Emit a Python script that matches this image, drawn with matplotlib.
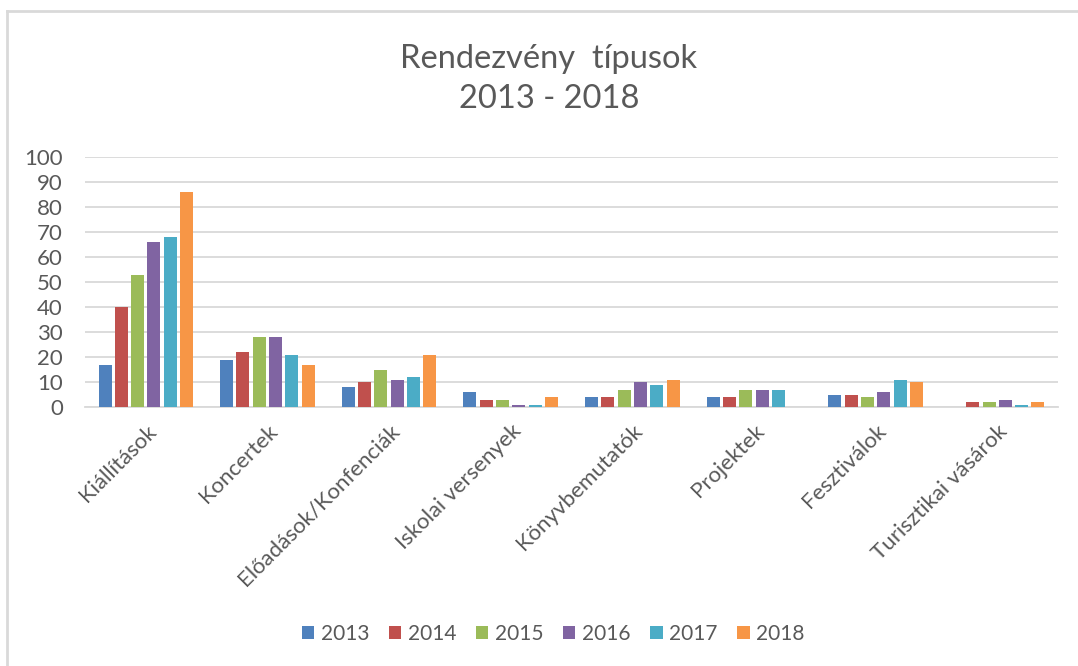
import matplotlib.pyplot as plt
import numpy as np

plt.rcParams['font.family'] = ['Lato', 'DejaVu Sans']

categories = ['Kiállítások', 'Koncertek', 'Előadások/Konfenciák', 'Iskolai versenyek',
              'Könyvbemutatók', 'Projektek', 'Fesztiválok', 'Turisztikai vásárok']
years = ['2013', '2014', '2015', '2016', '2017', '2018']
values = {
    '2013': [17, 19, 8, 6, 4, 4, 5, 0],
    '2014': [40, 22, 10, 3, 4, 4, 5, 2],
    '2015': [53, 28, 15, 3, 7, 7, 4, 2],
    '2016': [66, 28, 11, 1, 10, 7, 6, 3],
    '2017': [68, 21, 12, 1, 9, 7, 11, 1],
    '2018': [86, 17, 21, 4, 11, 0, 10, 2],
}
colors = ['#4F81BD', '#C0504D', '#9BBB59', '#8064A2', '#4BACC6', '#F79646']

text_color = '#595959'
grid_color = '#d9d9d9'

fig = plt.figure(figsize=(10.78, 6.66), dpi=100)
ax = fig.add_axes([85 / 1078, 1 - 407 / 666, (1058 - 85) / 1078, 250 / 666])

x = np.arange(len(categories))
step = 0.134
width = 0.107
for i, year in enumerate(years):
    offs = (i - 2.5) * step
    ax.bar(x + offs, values[year], width, color=colors[i], label=year, zorder=3)

ax.set_xlim(-0.5, len(categories) - 0.5)
ax.set_ylim(0, 100)
ax.set_yticks(range(0, 101, 10))
ax.yaxis.grid(True, color=grid_color, linewidth=1.3, zorder=0)
ax.set_xticks(x)
ax.set_xticklabels(categories, rotation=45, ha='right', rotation_mode='anchor')
ax.tick_params(axis='both', length=0, colors=text_color, labelsize=16)
ax.tick_params(axis='y', pad=16)
ax.tick_params(axis='x', pad=10)
for s in ['top', 'right', 'left']:
    ax.spines[s].set_visible(False)
ax.spines['bottom'].set_color(grid_color)
ax.spines['bottom'].set_linewidth(1.3)

fig.text(549 / 1078, 1 - 79 / 666, 'Rendezvény  típusok\n2013 - 2018', ha='center', va='center',
         fontsize=23.5, color=text_color, linespacing=1.45)

leg = fig.legend(loc='center', bbox_to_anchor=(553 / 1078, 1 - 634 / 666), ncol=6, frameon=False,
                 fontsize=15, handlelength=0.6, handleheight=0.6, handletextpad=0.3, columnspacing=0.95)
for t in leg.get_texts():
    t.set_color(text_color)

# chart border (top and left only visible)
fig.add_artist(plt.Line2D([7 / 1078, 7 / 1078], [0, 1 - 11 / 666], color=grid_color, linewidth=2))
fig.add_artist(plt.Line2D([7 / 1078, 1], [1 - 11 / 666, 1 - 11 / 666], color=grid_color, linewidth=2))

fig.savefig('out.png', dpi=100)
